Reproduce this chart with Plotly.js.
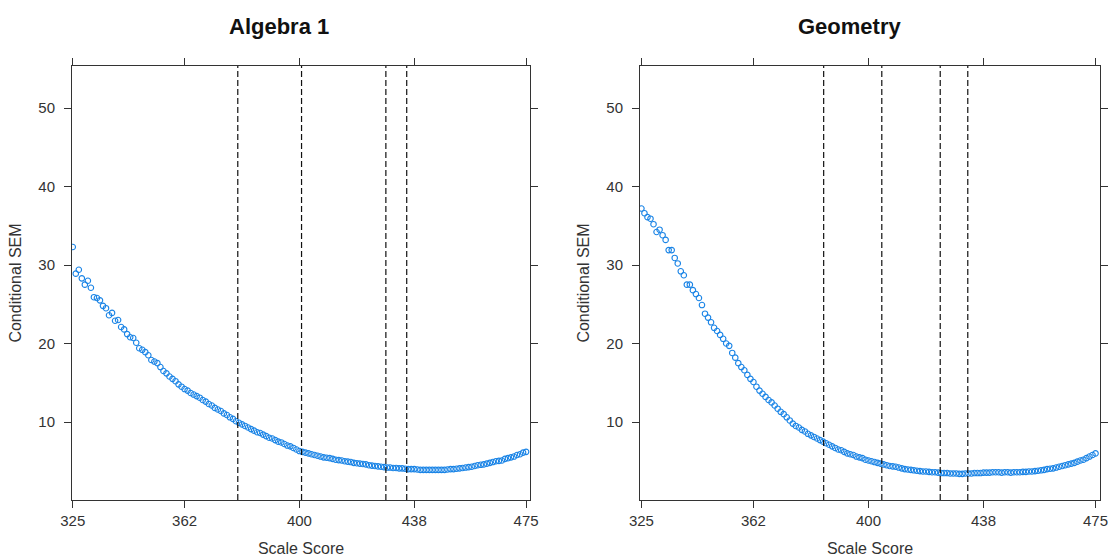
<!DOCTYPE html>
<html>
<head>
<meta charset="utf-8">
<script src="https://cdn.plot.ly/plotly-3.0.1.min.js"></script>
<style>html,body{margin:0;padding:0;background:#fff;}#chart{width:1110px;height:558px;}</style>
</head>
<body>
<div id="chart"></div>
<script>
// Scale scores (x) shared by both panels
const scores = [
325,326,327,328,329,330,331,332,333,334,
335,336,337,338,339,340,341,342,343,344,
345,346,347,348,349,350,351,352,353,354,
355,356,357,358,359,360,361,362,363,364,
365,366,367,368,369,370,371,372,373,374,
375,376,377,378,379,380,381,382,383,384,
385,386,387,388,389,390,391,392,393,394,
395,396,397,398,399,400,401,402,403,404,
405,406,407,408,409,410,411,412,413,414,
415,416,417,418,419,420,421,422,423,424,
425,426,427,428,429,430,431,432,433,434,
435,436,437,438,439,440,441,442,443,444,
445,446,447,448,449,450,451,452,453,454,
455,456,457,458,459,460,461,462,463,464,
465,466,467,468,469,470,471,472,473,474,
475];

// Conditional SEM, Algebra 1
const semAlgebra = [
32.3,28.9,29.4,28.3,27.5,28.0,27.1,25.9,25.8,25.5,
24.8,24.5,23.6,23.9,22.9,23.0,22.1,21.8,21.2,20.8,
20.7,20.1,19.4,19.2,18.9,18.5,17.9,17.7,17.5,17.0,
16.5,16.2,15.8,15.5,15.2,14.8,14.5,14.2,14.0,13.7,
13.5,13.3,13.1,12.8,12.6,12.3,12.1,11.8,11.6,11.4,
11.1,10.9,10.6,10.4,10.1,9.9,9.7,9.5,9.3,9.1,
8.9,8.7,8.6,8.4,8.2,8.0,7.9,7.7,7.5,7.4,
7.2,7.0,6.9,6.7,6.5,6.3,6.2,6.1,6.0,5.9,
5.8,5.7,5.6,5.5,5.45,5.4,5.3,5.2,5.15,5.1,
5.0,4.95,4.9,4.8,4.75,4.7,4.65,4.6,4.5,4.45,
4.4,4.35,4.3,4.25,4.2,4.2,4.15,4.15,4.1,4.1,
4.05,4.0,4.0,4.0,3.95,3.9,3.9,3.9,3.9,3.9,
3.9,3.9,3.9,3.9,3.95,4.0,4.0,4.05,4.1,4.15,
4.2,4.25,4.3,4.4,4.5,4.55,4.6,4.7,4.8,4.9,
5.0,5.05,5.1,5.3,5.4,5.5,5.6,5.8,5.9,6.1,
6.2];

// Conditional SEM, Geometry
const semGeometry = [
37.2,36.6,36.1,35.9,35.2,34.2,34.5,33.8,33.2,31.9,
31.9,30.9,30.2,29.2,28.7,27.5,27.5,26.8,26.3,25.8,
24.9,23.8,23.3,22.7,22.0,21.6,21.1,20.6,20.0,19.7,
18.8,18.2,17.5,17.0,16.6,16.0,15.5,15.1,14.5,14.0,
13.6,13.2,12.8,12.5,12.1,11.7,11.3,11.0,10.6,10.2,
9.8,9.5,9.3,9.0,8.8,8.5,8.3,8.1,7.9,7.7,
7.5,7.3,7.1,6.9,6.7,6.5,6.4,6.2,6.0,5.9,
5.8,5.6,5.5,5.4,5.2,5.1,5.0,4.9,4.8,4.7,
4.6,4.5,4.4,4.35,4.3,4.2,4.1,4.0,3.95,3.9,
3.85,3.8,3.75,3.7,3.7,3.65,3.6,3.6,3.55,3.5,
3.5,3.5,3.45,3.45,3.45,3.4,3.4,3.45,3.45,3.45,
3.5,3.5,3.5,3.55,3.55,3.55,3.6,3.6,3.6,3.55,
3.6,3.6,3.55,3.6,3.6,3.6,3.65,3.65,3.7,3.7,
3.75,3.8,3.85,3.9,4.0,4.05,4.1,4.2,4.3,4.4,
4.5,4.6,4.7,4.8,4.95,5.1,5.2,5.4,5.6,5.8,
6.0];

// Cut scores (dashed vertical lines)
const cutsAlgebra = [379.6, 400.7, 428.6, 435.5];
const cutsGeometry = [385.2, 404.4, 423.7, 432.8];

// Tick labels
const xTicks = [325, 362, 400, 438, 475];
const yTicks = [10, 20, 30, 40, 50];
const panelTitles = ['Algebra 1', 'Geometry'];

const FONT = 'Liberation Sans, Arial, sans-serif';
const AXC = '#333333';

const marker = {symbol: 'circle-open', size: 5.5, color: '#1a84e6', line: {width: 1.1, color: '#1a84e6'}};

const traces = [
  {x: scores, y: semAlgebra, type: 'scatter', mode: 'markers', marker: marker, xaxis: 'x', yaxis: 'y', hoverinfo: 'x+y'},
  {x: scores, y: semGeometry, type: 'scatter', mode: 'markers', marker: marker, xaxis: 'x2', yaxis: 'y2', hoverinfo: 'x+y'}
];

function xAxis(domain, range, anchor) {
  return {
    domain: domain, range: range, anchor: anchor,
    tickmode: 'array', tickvals: xTicks, ticktext: xTicks.map(String),
    ticks: 'outside', ticklen: 7, tickwidth: 1, tickcolor: AXC,
    showline: true, linecolor: AXC, linewidth: 1, mirror: 'ticks',
    showgrid: false, zeroline: false,
    tickfont: {family: FONT, size: 15, color: AXC},
    title: {text: 'Scale Score', font: {family: FONT, size: 16, color: AXC}, standoff: 14}
  };
}
function yAxis(anchor) {
  return {
    domain: [0.1039, 0.8817], range: [0.064, 55.35], anchor: anchor,
    tickmode: 'array', tickvals: yTicks, ticktext: yTicks.map(String),
    ticks: 'outside', ticklen: 7, tickwidth: 1, tickcolor: AXC,
    ticklabelstandoff: 6,
    showline: true, linecolor: AXC, linewidth: 1, mirror: 'ticks',
    showgrid: false, zeroline: false,
    tickfont: {family: FONT, size: 15, color: AXC},
    title: {text: 'Conditional SEM', font: {family: FONT, size: 16, color: AXC}, standoff: 12}
  };
}

const shapes = [];
cutsAlgebra.forEach(c => shapes.push({type: 'line', xref: 'x', yref: 'y domain', x0: c, x1: c, y0: 0, y1: 1,
  line: {color: '#111', width: 1.2, dash: '6px,3px'}}));
cutsGeometry.forEach(c => shapes.push({type: 'line', xref: 'x2', yref: 'y2 domain', x0: c, x1: c, y0: 0, y1: 1,
  line: {color: '#111', width: 1.2, dash: '6px,3px'}}));

const layout = {
  width: 1110, height: 558,
  margin: {l: 0, r: 0, t: 0, b: 0},
  paper_bgcolor: '#fff', plot_bgcolor: '#fff',
  showlegend: false,
  xaxis: xAxis([0.0649, 0.4775], [324.76, 476.3], 'y'),
  yaxis: yAxis('x'),
  xaxis2: xAxis([0.5766, 0.9910], [324.54, 476.48], 'y2'),
  yaxis2: yAxis('x2'),
  shapes: shapes,
  annotations: [
    {text: '<b>' + panelTitles[0] + '</b>', xref: 'paper', yref: 'paper', x: 279/1110, y: 1 - 27/558,
     xanchor: 'center', yanchor: 'middle', showarrow: false, font: {family: FONT, size: 22, color: '#111'}},
    {text: '<b>' + panelTitles[1] + '</b>', xref: 'paper', yref: 'paper', x: 849/1110, y: 1 - 27/558,
     xanchor: 'center', yanchor: 'middle', showarrow: false, font: {family: FONT, size: 22, color: '#111'}}
  ]
};

Plotly.newPlot('chart', traces, layout, {displayModeBar: false, staticPlot: true});
</script>
</body>
</html>
